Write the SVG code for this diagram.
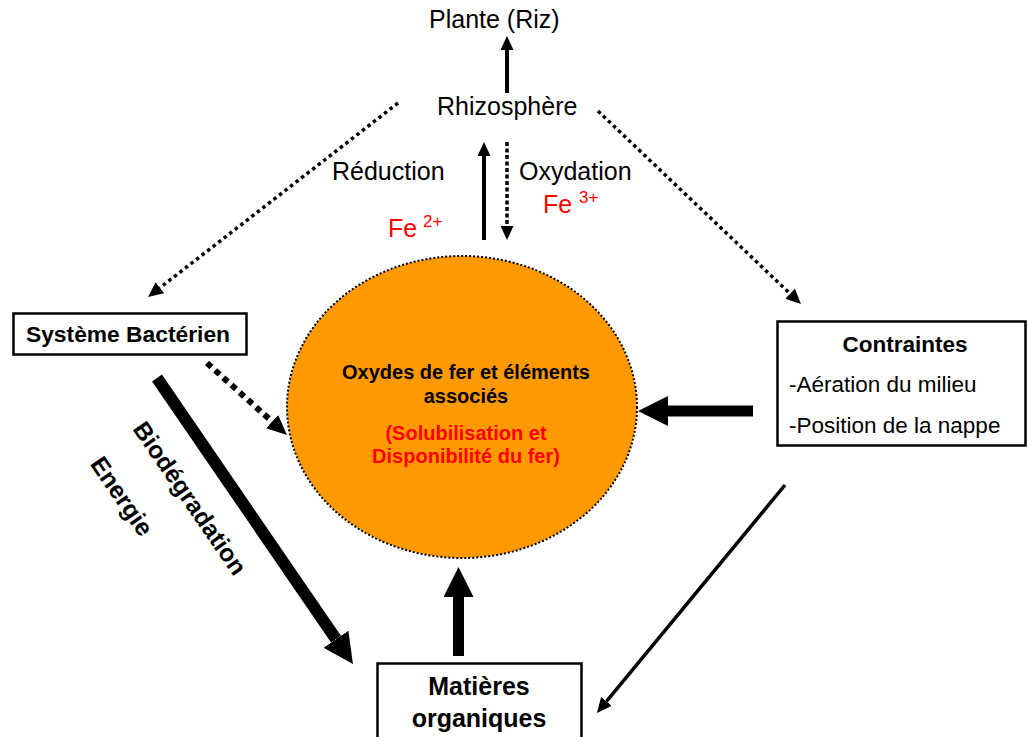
<svg xmlns="http://www.w3.org/2000/svg" width="1028" height="737" viewBox="0 0 1028 737">
<style>
text{font-family:"Liberation Sans",Arial,sans-serif;fill:#000}
.lbl{font-size:25px}
.b{font-weight:bold}
.red{fill:#ff0000}
.box{fill:#fff;stroke:#000;stroke-width:2.5}
.thick{stroke:#000;stroke-width:11;fill:none}
.med{stroke:#000;stroke-width:4;fill:none}
.dot{stroke:#000;stroke-width:3.5;stroke-dasharray:3.5 3.5;fill:none}
.dotb{stroke:#000;stroke-width:6;stroke-dasharray:6 5;fill:none}
.thin{stroke:#000;stroke-width:3.5;fill:none}
</style>
<defs>
<marker id="hL" viewBox="0 -15 30 30" markerWidth="30" markerHeight="30" refX="0" refY="0" orient="auto" markerUnits="userSpaceOnUse"><path d="M0,-15 L30,0 L0,15 Z" fill="#000"/></marker>
<marker id="hM" viewBox="0 -6.5 14 13" markerWidth="14" markerHeight="13" refX="0" refY="0" orient="auto" markerUnits="userSpaceOnUse"><path d="M0,-6.5 L14,0 L0,6.5 Z" fill="#000"/></marker>
<marker id="hS" viewBox="0 -7 15 14" markerWidth="15" markerHeight="14" refX="0" refY="0" orient="auto" markerUnits="userSpaceOnUse"><path d="M0,-7 L15,0 L0,7 Z" fill="#000"/></marker>
<marker id="hD" viewBox="0 -9 20 18" markerWidth="20" markerHeight="18" refX="0" refY="0" orient="auto" markerUnits="userSpaceOnUse"><path d="M0,-9 L20,0 L0,9 Z" fill="#000"/></marker>
</defs>

<g id="connectors">
<line class="med" x1="507" y1="93" x2="507" y2="50" marker-end="url(#hM)"/>
<line class="med" x1="484" y1="240" x2="484" y2="156" marker-end="url(#hM)"/>
<line class="med" x1="507" y1="142" x2="507" y2="226" style="stroke-width:3.5;stroke-dasharray:4 2.5" marker-end="url(#hM)"/>
<line class="dot" x1="398" y1="103" x2="159.9" y2="287.8" marker-end="url(#hS)"/>
<line class="dot" x1="598" y1="111" x2="790.1" y2="293.7" marker-end="url(#hS)"/>
<line class="dotb" x1="207" y1="363" x2="272.1" y2="421.6" marker-end="url(#hD)"/>
<line class="thick" x1="157" y1="378" x2="336" y2="639.2" style="stroke-width:12" marker-end="url(#hL)"/>
<line class="thick" x1="753" y1="411" x2="668" y2="411" marker-end="url(#hL)"/>
<line class="thick" x1="458.5" y1="656" x2="458.5" y2="597" marker-end="url(#hL)"/>
<line class="thin" x1="785" y1="485" x2="606.5" y2="701.4" marker-end="url(#hS)"/>
</g>

<g id="plante"><text class="lbl" x="429" y="28">Plante (Riz)</text></g>
<g id="rhizosphere"><text class="lbl" x="437" y="115">Rhizosphère</text></g>
<g id="reduction"><text class="lbl" x="332" y="180">Réduction</text></g>
<g id="oxydation"><text class="lbl" x="519" y="180">Oxydation</text></g>
<g id="fe2"><text class="lbl red" x="388" y="237">Fe <tspan x="423" y="227" style="font-size:17px">2+</tspan></text></g>
<g id="fe3"><text class="lbl red" x="543" y="213">Fe <tspan x="579" y="203" style="font-size:17px">3+</tspan></text></g>

<g id="oxydes">
<ellipse cx="462" cy="407" rx="175" ry="151" fill="#ff9900" stroke="#000" stroke-width="2" stroke-dasharray="2 2"/>
<text class="b" x="466" y="379" text-anchor="middle" style="font-size:20px">Oxydes de fer et éléments</text>
<text class="b" x="466" y="403" text-anchor="middle" style="font-size:20px">associés</text>
<text class="b red" x="466" y="440" text-anchor="middle" style="font-size:20px">(Solubilisation et</text>
<text class="b red" x="466" y="463" text-anchor="middle" style="font-size:20px">Disponibilité du fer)</text>
</g>

<g id="systeme">
<rect class="box" x="13.5" y="313.5" width="233" height="41"/>
<text class="b" x="128" y="342" text-anchor="middle" style="font-size:22.8px">Système Bactérien</text>
</g>

<g id="contraintes">
<rect class="box" x="777.5" y="321.5" width="248" height="124"/>
<text class="b" x="905" y="352" text-anchor="middle" style="font-size:22.5px">Contraintes</text>
<text x="789" y="392" style="font-size:22.5px">-Aération du milieu</text>
<text x="789" y="433" style="font-size:22.5px">-Position de la nappe</text>
</g>

<g id="matieres">
<rect class="box" x="377.5" y="663.5" width="204" height="80"/>
<text class="b" x="479" y="695" text-anchor="middle" style="font-size:25px">Matières</text>
<text class="b" x="479" y="727" text-anchor="middle" style="font-size:25px">organiques</text>
</g>

<g id="labels-rotated">
<text class="b" transform="translate(183,503) rotate(55.5)" text-anchor="middle" style="font-size:24.5px">Biodégradation</text>
<text class="b" transform="translate(115,501) rotate(55.5)" text-anchor="middle" style="font-size:24.5px">Energie</text>
</g>
</svg>
